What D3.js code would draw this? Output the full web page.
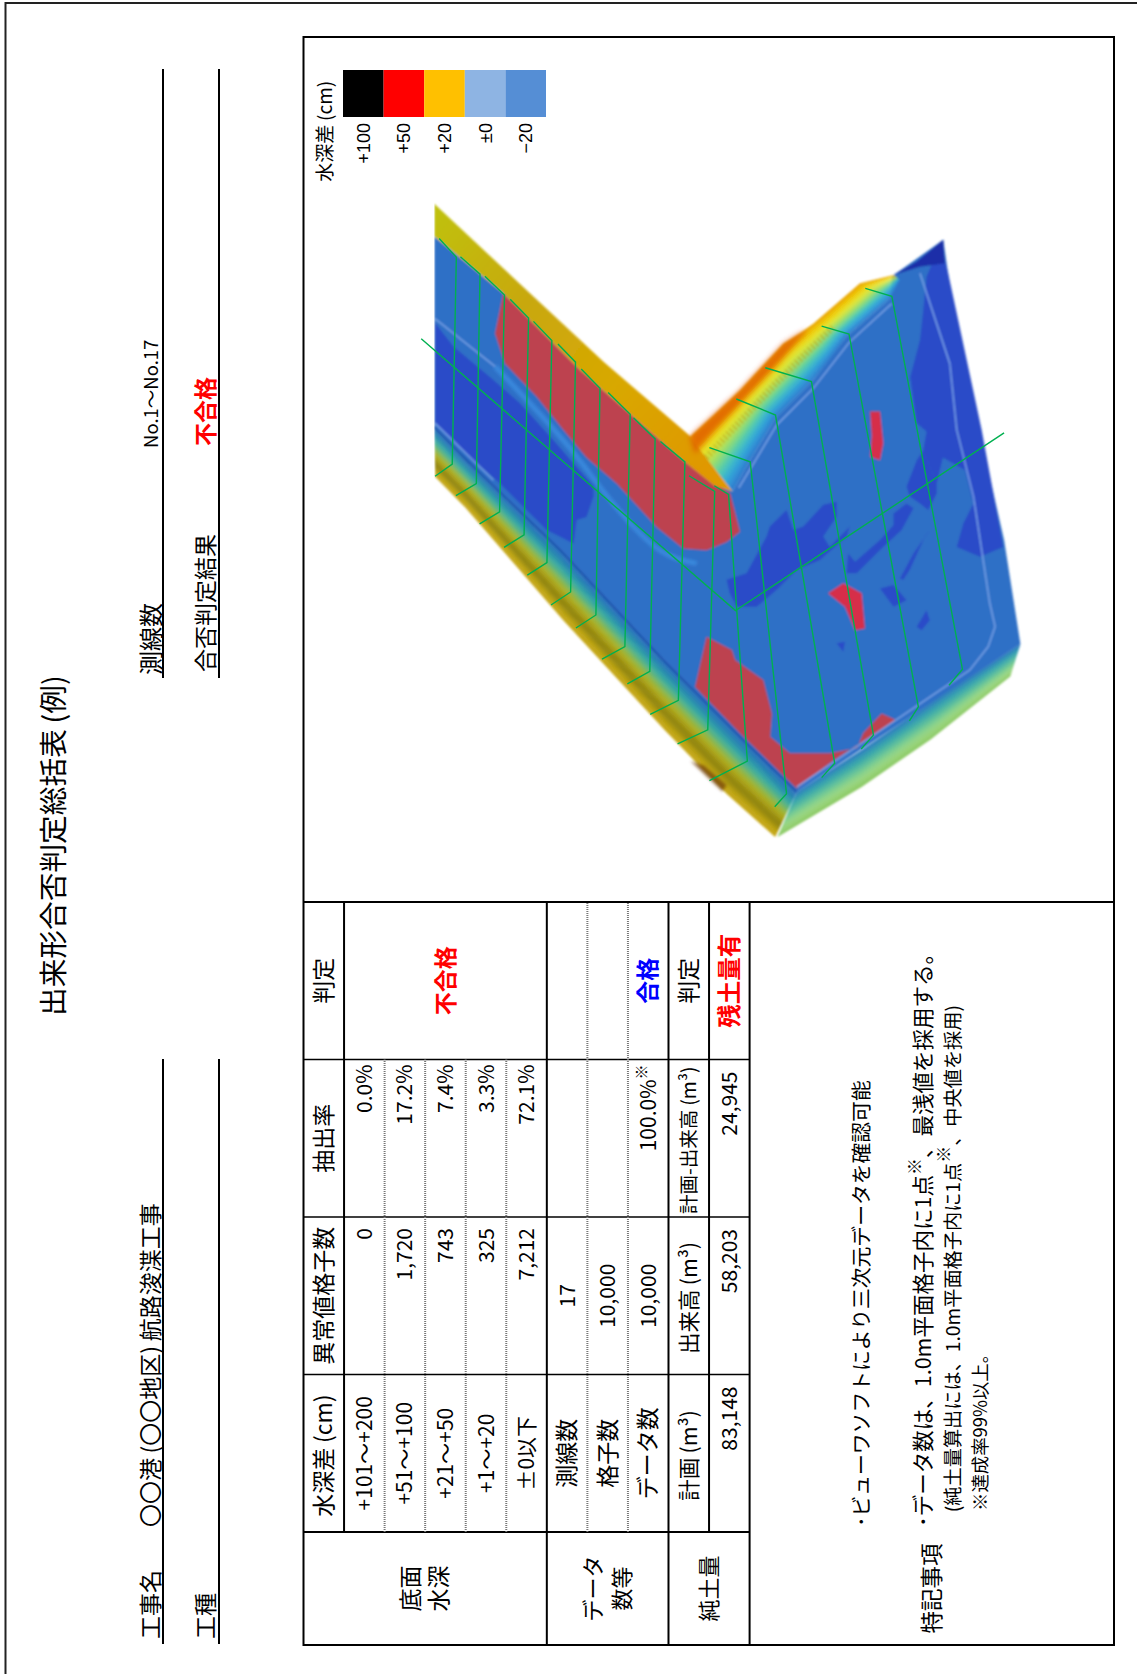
<!DOCTYPE html>
<html>
<head>
<meta charset="utf-8">
<title>出来形合否判定総括表</title>
<script src="https://cdn.jsdelivr.net/npm/d3@7"></script>
<style>
  html, body { margin: 0; padding: 0; background: #fff; }
  svg { display: block; }
  text { font-family: "Noto Sans CJK JP", "Noto Sans", sans-serif; fill: #000; }
</style>
</head>
<body>
<svg id="sheet" width="1137" height="1674"></svg>
<script>
// ── Table data ────────────────────────────────────────────────────────────────
const headers      = ['水深差（cm）', '異常値格子数', '抽出率', '判定'];
const depthRanges  = ['+101〜+200', '+51〜+100', '+21〜+50', '+1〜+20', '±0以下'];
const depthCounts  = ['0', '1,720', '743', '325', '7,212'];
const depthRates   = ['0.0%', '17.2%', '7.4%', '3.3%', '72.1%'];
const dataLabels   = ['測線数', '格子数', 'データ数'];
const dataValues   = ['17', '10,000', '10,000'];
const soilHeaders  = ['計画（m³）', '出来高（m³）', '計画-出来高（m³）', '判定'];
const soilValues   = ['83,148', '58,203', '24,945'];
const notes = [
  ['･ビューワソフトにより三次元データを確認可能'],
  ['･データ数は、1.0m平面格子内に1点', '、最浅値を採用する。'],
  ['（純土量算出には、1.0m平面格子内に1点', '、中央値を採用）'],
  ['※達成率99%以上。']
];

// ── Legend data ───────────────────────────────────────────────────────────────
const legendLabels = ['+100', '+50', '+20', '±0', '−20'];
const legendColors = ['#000000', '#ff0000', '#ffc000', '#8eb4e3', '#558ed5'];

// ── Terrain shapes, in survey-plot units (0–1568 on both axes) ────────────────
const floorOutline = [[84,130],[253,261],[441,438],[698,650],[815,718],[858,646],[923,546],[1013,461],[1094,361],[1201,273],[1205,222],[1331,138],[1345,230],[1400,500],[1480,830],[1520,1070],[972,1411],[858,1307],[645,1107],[392,853],[163,646],[84,570]];
const upperBank    = [[84,55],[300,245],[500,420],[710,590],[815,718],[770,705],[698,650],[441,438],[253,261],[84,130]];
const deepPatches  = [
  [[86,330],[131,384],[229,461],[294,515],[376,600],[474,707],[474,730],[457,777],[433,784],[425,838],[359,807],[245,700],[180,646],[86,561]],
  [[1327,154],[1343,215],[1425,576],[1478,846],[1421,869],[1364,846],[1380,792],[1405,746],[1385,669],[1330,640],[1315,699],[1282,623],[1290,580],[1266,561],[1250,454],[1274,369],[1282,300],[1290,223],[1307,185]],
  [[800,922],[849,907],[898,822],[906,799],[947,761],[964,807],[988,799],[1037,749],[1070,742],[1070,776],[1037,822],[1053,846],[1102,799],[1094,822],[1029,876],[972,899],[923,945],[874,984],[825,984],[808,953]],
  [[1098,861],[1115,880],[1176,830],[1209,796],[1209,769],[1241,746],[1258,757],[1229,807],[1176,853],[1119,907],[1094,907]],
  [[1241,707],[1266,646],[1282,623],[1315,699],[1315,723],[1294,761],[1274,746],[1249,730]],
  [[1225,919],[1258,861],[1298,807],[1286,822],[1249,899],[1233,922]],
  [[1176,942],[1209,934],[1241,969],[1209,984]],
  [[1266,1030],[1290,992],[1298,1015],[1278,1038]],
  [[1070,1068],[1090,1065],[1086,1088]]
];
const navyTip = [[1209,219],[1266,188],[1331,138],[1335,192],[1274,200]];
const redPatches = [
  [[253,262],[441,438],[698,650],[770,700],[809,723],[833,811],[800,835],[751,854],[694,850],[629,800],[531,700],[457,640],[400,576],[335,500],[257,423],[233,354]],
  [[1152,534],[1176,534],[1184,607],[1176,646],[1152,638],[1156,590]],
  [[1049,953],[1086,930],[1131,953],[1139,1034],[1115,1038],[1090,984]],
  [[751,1053],[813,1084],[821,1107],[890,1153],[911,1230],[907,1284],[955,1322],[1053,1322],[1120,1310],[1135,1275],[1180,1230],[1215,1245],[1060,1340],[972,1403],[833,1276],[723,1169]]
];
const channel    = [[233,430],[327,523],[416,615],[482,700],[560,790],[645,869],[727,884]];
const paleLines  = [
  [[1274,215],[1347,423],[1364,576],[1405,730],[1445,976],[1458,1030],[1441,1076],[1396,1130],[972,1400]],
  [[830,710],[923,565],[1013,480],[1100,375],[1205,285]],
  [[86,320],[233,430]],
  [[86,561],[229,692]]
];
const darkLine   = [[84,570],[163,646],[392,853],[645,1107],[858,1307],[972,1411]];

// ribbons: two edges and the colours that run across from the first to the second
const rightBankOuter = [[710,592],[770,540],[833,484],[939,377],[980,353],[1013,331],[1127,238],[1209,219]];
const rightBankInner = [[815,718],[858,646],[923,546],[1013,461],[1060,405],[1094,361],[1201,273],[1225,231]];
const rightBankCols  = ['#e8a000', '#f0c800', '#e8e830', '#a8e060', '#50d0b0', '#30a8e0', '#2f78cc'];
const rightBankRed   = [[710,592],[833,484],[939,377],[980,353],[1000,345],[930,420],[860,490],[770,580],[722,632]];
const rightBankRidge = [[750,640],[830,560],[920,470],[1000,395],[1060,340]];
const lowerBankInner = [[84,570],[163,646],[392,853],[645,1107],[858,1307],[972,1411]];
const lowerBankOuter = [[86,684],[160,755],[400,1015],[650,1270],[800,1415],[919,1515]];
const lowerBankCols  = ['#2f6fc4', '#2580b0', '#30a8a8', '#60b880', '#a8b830', '#b0a010', '#807810', '#c0a810', '#c8a818'];
const lowerBankScar  = [[712,1340],[745,1350],[800,1395],[790,1410]];
const endBankInner   = [[972,1411],[1130,1315],[1340,1180],[1520,1070]];
const endBankOuter   = [[925,1515],[1130,1400],[1300,1290],[1495,1145]];
const endBankCols    = ['#2f78c0', '#30a0b0', '#50b8a0', '#80d090', '#a0d880', '#88c860'];
const upperBankCols  = ['#c0c010', '#c8a810', '#d8a800', '#e09800'];

// 17 survey lines plus the centre line
const surveyLines = [
  [[96,135],[138,178],[128,655],[86,683]],
  [[148,177],[196,217],[187,700],[137,728]],
  [[208,222],[256,265],[244,765],[195,793]],
  [[270,275],[315,318],[304,818],[255,847]],
  [[327,326],[372,370],[360,882],[312,911]],
  [[387,378],[430,420],[418,950],[370,980]],
  [[444,436],[490,480],[480,1003],[431,1033]],
  [[510,490],[564,540],[551,1076],[495,1105]],
  [[572,548],[625,597],[612,1133],[557,1162]],
  [[638,603],[698,650],[682,1200],[613,1232]],
  [[708,682],[771,718],[754,1268],[680,1300]],
  [[770,705],[805,725],[851,1340],[758,1385]],
  [[758,617],[858,650],[947,1415],[918,1445]],
  [[824,505],[920,542],[1065,1345],[1033,1378]],
  [[895,433],[1008,465],[1160,1280],[1130,1312]],
  [[1033,337],[1100,355],[1270,1215],[1248,1247]],
  [[1140,250],[1205,268],[1378,1128],[1345,1165]]
];
const centreLine = [[52,366],[822,993],[1480,583]];

// ── Setup ─────────────────────────────────────────────────────────────────────
const W = 1137, H = 1674;
const svg = d3.select('#sheet');
const defs = svg.append('defs');

// page frame, on the portrait page
svg.append('path').attr('d', `M${W},3H5.5V${H}`).attr('fill', 'none').attr('stroke', '#222').attr('stroke-width', 2);

// ── Terrain ───────────────────────────────────────────────────────────────────
const tx = d3.scaleLinear().domain([0, 1568]).range([400, 1040]);
const ty = d3.scaleLinear().domain([0, 1568]).range([180, 860]);
const shape = d3.line().x(d => tx(d[0])).y(d => ty(d[1]));
const smooth = d3.line().x(d => tx(d[0])).y(d => ty(d[1])).curve(d3.curveBasis);

function blurFilter(id, amount) {
  defs.append('filter').attr('id', id)
    .attr('x', -0.1).attr('y', -0.1).attr('width', 1.2).attr('height', 1.2)
    .append('feGaussianBlur').attr('stdDeviation', amount);
}
blurFilter('soft', 1.1);
blurFilter('softer', 2.6);
defs.append('clipPath').attr('id', 'plotClip').append('rect')
  .attr('x', tx(84)).attr('y', ty(0)).attr('width', tx(1568) - tx(84)).attr('height', ty(1568) - ty(0));

const upperGrad = defs.append('linearGradient').attr('id', 'upperGrad')
  .attr('gradientUnits', 'userSpaceOnUse')
  .attr('x1', tx(84)).attr('y1', ty(90)).attr('x2', tx(760)).attr('y2', ty(650));
upperBankCols.forEach((c, i) => upperGrad.append('stop')
  .attr('offset', i / (upperBankCols.length - 1)).attr('stop-color', c));

const terrain = svg.append('g').attr('clip-path', 'url(#plotClip)').append('g').attr('filter', 'url(#soft)');

terrain.append('path').attr('d', shape(floorOutline) + 'Z').attr('fill', '#2f70c6');
deepPatches.forEach(p => terrain.append('path').attr('d', shape(p) + 'Z').attr('fill', '#2a4bc8'));
terrain.append('path').attr('d', shape(navyTip) + 'Z').attr('fill', '#1c2fa8');
terrain.append('path').attr('d', smooth(channel)).attr('fill', 'none')
  .attr('stroke', '#3a8de0').attr('stroke-width', 5).attr('opacity', 0.85).attr('filter', 'url(#soft)');
redPatches.forEach((p, i) => terrain.append('path').attr('d', shape(p) + 'Z')
  .attr('fill', i === 1 || i === 2 ? '#d62f4a' : '#bd4350'));
terrain.append('path').attr('d', shape(upperBank) + 'Z').attr('fill', 'url(#upperGrad)');

// A bank is a stack of thin strips between its two edges
function ribbon(edgeA, edgeB, colors, strips) {
  const colorAt = d3.interpolateRgbBasis(colors);
  const between = t => edgeA.map((a, i) => [a[0] + (edgeB[i][0] - a[0]) * t, a[1] + (edgeB[i][1] - a[1]) * t]);
  d3.range(strips).forEach(k => {
    const from = between(k / strips);
    const to = between(Math.min(1, (k + 1.3) / strips)).reverse();
    terrain.append('path').attr('d', shape(from.concat(to)) + 'Z').attr('fill', colorAt((k + 0.5) / strips));
  });
}
ribbon(rightBankOuter, rightBankInner, rightBankCols, 24);
terrain.append('path').attr('d', shape(rightBankRed) + 'Z').attr('fill', '#e05a00').attr('opacity', 0.8).attr('filter', 'url(#softer)');
terrain.append('path').attr('d', shape(rightBankRidge)).attr('fill', 'none')
  .attr('stroke', '#b88a00').attr('stroke-width', 7).attr('stroke-dasharray', '2 2.5').attr('opacity', 0.4);
ribbon(lowerBankInner, lowerBankOuter, lowerBankCols, 30);
terrain.append('path').attr('d', shape(lowerBankScar) + 'Z').attr('fill', '#7a4a10').attr('opacity', 0.8).attr('filter', 'url(#soft)');
ribbon(endBankInner, endBankOuter, endBankCols, 16);

paleLines.forEach(l => terrain.append('path').attr('d', shape(l)).attr('fill', 'none')
  .attr('stroke', '#7ea8ea').attr('stroke-width', 1.3));
terrain.append('path').attr('d', shape(darkLine)).attr('fill', 'none').attr('stroke', '#1f4fa8').attr('stroke-width', 1.6);

const green = svg.append('g').attr('fill', 'none').attr('stroke', '#00b050').attr('stroke-width', 1.4);
surveyLines.concat([centreLine]).forEach(l => green.append('path').attr('d', shape(l)));

// ── Sheet, drawn in landscape and turned a quarter to the left ────────────────
const sheet = svg.append('g').attr('transform', `translate(0,${H}) rotate(-90)`);

const rowY = d3.scaleLinear().domain([0, 11]).range([303.5, 749.6]);
const colX = d3.scaleLinear().domain([0, 4]).range([142, 772]);
const tableLeft = 29, tableRight = 1637, tableBottom = 1114;

function rule(x1, y1, x2, y2, width, dotted) {
  sheet.append('line').attr('x1', x1).attr('y1', y1).attr('x2', x2).attr('y2', y2)
    .attr('stroke', dotted ? '#777' : '#000').attr('stroke-width', width)
    .attr('stroke-dasharray', dotted ? '1 1' : null);
}
// the sheet's brackets sit narrower than full-width ones
const compact = s => s.replace(/（/g, '\u2009(').replace(/）/g, ')\u2009');
function label(str, x, y, size, opts = {}) {
  return sheet.append('text').attr('x', x).attr('y', y + size * 0.36)
    .attr('text-anchor', opts.anchor || 'middle')
    .attr('font-size', size)
    .attr('font-weight', opts.bold ? 700 : 400)
    .style('fill', opts.color || '#000')
    .style('font-family', opts.font || null)
    .text(compact(str));
}
const rowMid = i => (rowY(i) + rowY(i + 1)) / 2;
const colMid = i => (colX(i) + colX(i + 1)) / 2;

// heading block
label('出来形合否判定総括表（例）', 658, 54, 28.7, { anchor: 'start' });
label('工事名', 35, 151, 23, { anchor: 'start' });
label('〇〇港（〇〇地区）航路浚渫工事', 147, 151, 23, { anchor: 'start' });
label('測線数', 999, 151, 24, { anchor: 'start' });
label('No.1〜No.17', 1226, 151, 18.5, { anchor: 'start' });
label('工種', 35, 206, 23, { anchor: 'start' });
label('合否判定結果', 1002, 206, 23, { anchor: 'start' });
label('不合格', 1228, 206, 23, { anchor: 'start', bold: true, color: '#ff0000' });
[163, 219].forEach(y => {
  rule(30, y, 615, y, 2);
  rule(996, y, 1605, y, 2);
});

// frame and main rules
sheet.append('rect')
  .attr('x', tableLeft).attr('y', rowY(0))
  .attr('width', tableRight - tableLeft).attr('height', tableBottom - rowY(0))
  .attr('fill', 'none').attr('stroke', '#000').attr('stroke-width', 2);
rule(colX(4), rowY(0), colX(4), tableBottom, 2);
rule(colX(0), rowY(0), colX(0), rowY(11), 2);
d3.range(1, 4).forEach(i => rule(colX(i), rowY(0), colX(i), rowY(11), 1.5));
rule(colX(0), rowY(1), colX(4), rowY(1), 2);
[6, 9, 11].forEach(i => rule(tableLeft, rowY(i), colX(4), rowY(i), 2));
rule(colX(0), rowY(10), colX(4), rowY(10), 2);
[2, 3, 4, 5].forEach(i => rule(colX(0), rowY(i), colX(3), rowY(i), 2, true));
[7, 8].forEach(i => rule(colX(0), rowY(i), colX(4), rowY(i), 2, true));

// header row
headers.forEach((h, i) => label(h, colMid(i), rowMid(0), 23));

// bottom-depth rows
depthRanges.forEach((d, i) => {
  label(d, colMid(0), rowMid(i + 1), 21);
  label(depthCounts[i], colX(2) - 11, rowMid(i + 1), 21, { anchor: 'end' });
  label(depthRates[i], colX(3) - 5, rowMid(i + 1), 21, { anchor: 'end' });
});
label('不合格', colMid(3), rowMid(3), 23, { bold: true, color: '#ff0000' });

// data-count rows
dataLabels.forEach((d, i) => {
  label(d, colMid(0), rowMid(i + 6), 23);
  label(dataValues[i], colMid(1), rowMid(i + 6), 21);
});
label('100.0%', colX(3) - 5, rowMid(8), 21, { anchor: 'end' }).append('tspan')
  .attr('font-size', 15).attr('dy', -9).text('※');
label('合格', colMid(3), rowMid(8), 23, { bold: true, color: '#0000ff' });

// net-soil rows
const soilSizes = [21.5, 21.5, 19.5, 23];
soilHeaders.forEach((h, i) => label(h, colMid(i), rowMid(9), soilSizes[i]));
soilValues.forEach((v, i) => label(v, colX(i + 1) - 12, rowMid(10), 21, { anchor: 'end' }));
label('残土量有', colMid(3), rowMid(10), 23.5, { bold: true, color: '#ff0000' });

// group labels
label('底面', 85.5, 411, 23);
label('水深', 85.5, 439, 23);
label('データ', 85.5, 593, 22);
label('数等', 85.5, 622, 22);
label('純土量', 85.5, rowY(9) + 40.5, 22);
label('特記事項', 85.5, 932, 22.5);

// notes
const noteYs = [862, 923, 953, 980];
const noteXs = [147, 147, 158, 163];
const noteSizes = [20.8, 21.5, 19.2, 18.4];
notes.forEach((parts, i) => {
  const t = label(parts[0], noteXs[i], noteYs[i], noteSizes[i], { anchor: 'start' });
  if (parts[1]) {
    t.append('tspan').attr('font-size', 17).attr('dy', -10).text('※');
    t.append('tspan').attr('dy', 10).text(compact(parts[1]));
  }
});

// ── Legend ────────────────────────────────────────────────────────────────────
const legendY = d3.scaleBand().domain(legendLabels).range([343, 546]);
sheet.selectAll('rect.swatch').data(legendLabels).enter().append('rect')
  .attr('class', 'swatch')
  .attr('x', H - 117).attr('width', 47)
  .attr('y', d => legendY(d)).attr('height', legendY.bandwidth())
  .attr('fill', (d, i) => legendColors[i]);
legendLabels.forEach(d => label(d, H - 123, legendY(d) + legendY.bandwidth() / 2, 18,
  { anchor: 'end', font: '"Liberation Sans", sans-serif' }));
label('水深差（cm）', 1597, 325, 19, { anchor: 'end' });
</script>
</body>
</html>
